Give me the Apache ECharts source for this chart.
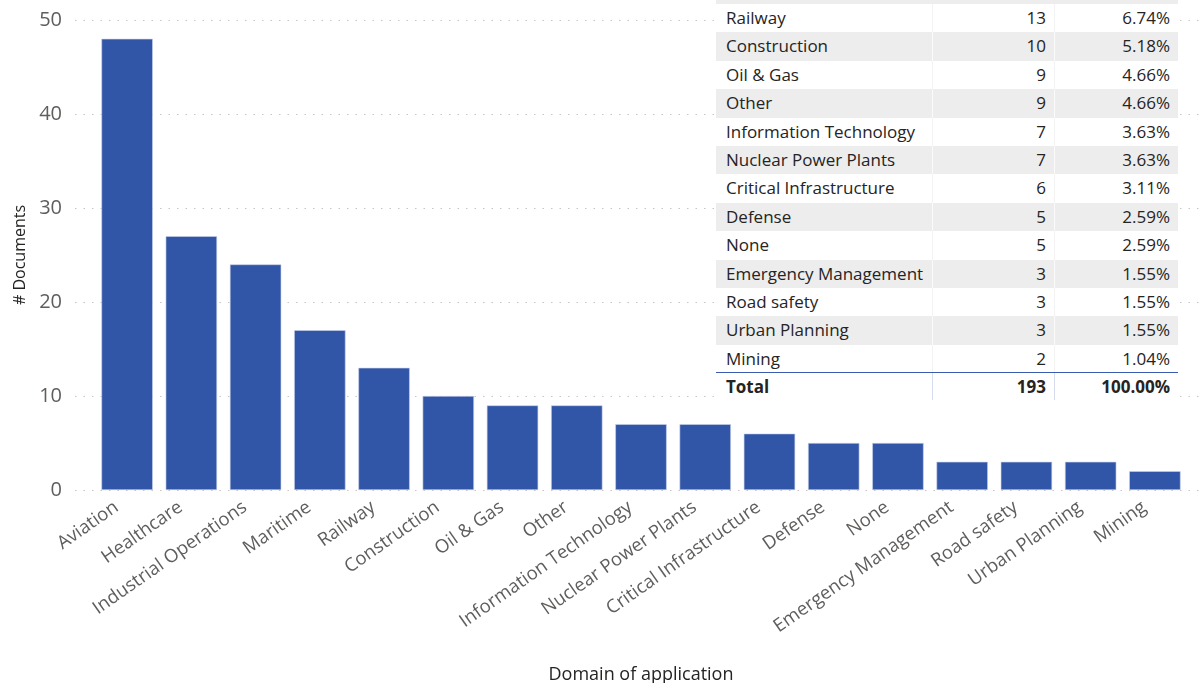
<!DOCTYPE html>
<html>
<head>
<meta charset="utf-8">
<script src="https://cdn.jsdelivr.net/npm/echarts@6/dist/echarts.min.js"></script>
<style>
  html, body { margin: 0; padding: 0; background: #fff; }
  #wrap { position: relative; width: 1203px; height: 683px; overflow: hidden; }
  #chart { position: absolute; left: 0; top: 0; width: 1203px; height: 683px; }
  #tbl { position: absolute; left: 716px; top: 0; width: 462px; height: 400px; background: #fff;
         font-family: "Open Sans", "Noto Sans", sans-serif; font-size: 17px; color: #252423; overflow: hidden; }
  .row { display: flex; height: 28.4px; line-height: 28.4px; box-sizing: border-box; }
  .row.gray { background: #EDEDED; }
  .c1 { width: 216px; padding-left: 10px; box-sizing: border-box; white-space: nowrap; }
  .c2 { width: 122px; padding-right: 8px; text-align: right; box-sizing: border-box; border-left: 1px solid #F3F3F3; }
  .c3 { width: 124px; padding-right: 8px; text-align: right; box-sizing: border-box; border-left: 1px solid #F3F3F3; }
  .row.gray .c2, .row.gray .c3 { border-left-color: #FAFAFA; }
  .top { height: 4px; background: #EDEDED; }
  .total { position: absolute; left: 0; top: 372px; width: 462px; height: 28px; line-height: 28px;
           border-top: 1.5px solid #3A5BAF; font-weight: bold; box-sizing: border-box; }
  .total .c2, .total .c3 { border-left-color: #D5DCEE; }
</style>
</head>
<body>
<div id="wrap">
  <div id="chart"></div>
  <div id="tbl"></div>
</div>
<script>
// ---- data ----
const categories = ["Aviation", "Healthcare", "Industrial Operations", "Maritime", "Railway", "Construction",
  "Oil & Gas", "Other", "Information Technology", "Nuclear Power Plants", "Critical Infrastructure",
  "Defense", "None", "Emergency Management", "Road safety", "Urban Planning", "Mining"];
const documents = [48, 27, 24, 17, 13, 10, 9, 9, 7, 7, 6, 5, 5, 3, 3, 3, 2];
const yTicks = [0, 10, 20, 30, 40, 50];

// table (scrolled: visible rows start at "Railway")
const tableCategories = ["Railway", "Construction", "Oil & Gas", "Other", "Information Technology",
  "Nuclear Power Plants", "Critical Infrastructure", "Defense", "None", "Emergency Management",
  "Road safety", "Urban Planning", "Mining"];
const tableCounts = [13, 10, 9, 9, 7, 7, 6, 5, 5, 3, 3, 3, 2];
const tablePercents = ["6.74%", "5.18%", "4.66%", "4.66%", "3.63%", "3.63%", "3.11%", "2.59%",
  "2.59%", "1.55%", "1.55%", "1.55%", "1.04%"];
const tableTotalCount = 193;
const tableTotalPercent = "100.00%";

// ---- table ----
const tbl = document.getElementById('tbl');
let html = '<div class="top"></div>';
tableCategories.forEach((c, i) => {
  const cls = (i % 2 === 1) ? 'row gray' : 'row';
  html += '<div class="' + cls + '"><div class="c1">' + c.replace('&', '&amp;') + '</div><div class="c2">' +
    tableCounts[i] + '</div><div class="c3">' + tablePercents[i] + '</div></div>';
});
html += '<div class="row total"><div class="c1">Total</div><div class="c2">' + tableTotalCount +
  '</div><div class="c3">' + tableTotalPercent + '</div></div>';
tbl.innerHTML = html;

// ---- chart ----
const chart = echarts.init(document.getElementById('chart'), null, { renderer: 'canvas' });
const font = '"Open Sans", "Noto Sans", sans-serif';
const option = {
  animation: false,
  textStyle: { fontFamily: font },
  grid: [
    { left: 95, right: 16, top: 20, bottom: 193, containLabel: false, outerBoundsMode: 'none' },
    { left: 75, right: 3, top: 20, bottom: 193, containLabel: false, outerBoundsMode: 'none' }
  ],
  xAxis: [
    {
      type: 'category', gridIndex: 0, data: categories,
      axisLine: { show: false }, axisTick: { show: false },
      axisLabel: { rotate: 35, fontSize: 18.5, color: '#605E5C', margin: 8, interval: 0,
        padding: [0, 13, 0, 0], fontFamily: font },
      name: 'Domain of application', nameLocation: 'middle', nameGap: 176,
      nameTextStyle: { fontSize: 18, color: '#252423', fontFamily: font }
    },
    { type: 'value', gridIndex: 1, show: false, min: 0, max: 1 }
  ],
  yAxis: [
    {
      type: 'value', gridIndex: 0, min: yTicks[0], max: yTicks[yTicks.length - 1], interval: 10,
      axisLine: { show: false }, axisTick: { show: false }, splitLine: { show: false },
      axisLabel: { fontSize: 20, color: '#605E5C', margin: 33, fontFamily: font },
      name: '# Documents', nameLocation: 'middle', nameGap: 66,
      nameTextStyle: { fontSize: 16, color: '#252423', fontFamily: font }
    },
    {
      type: 'value', gridIndex: 1, min: yTicks[0], max: yTicks[yTicks.length - 1], interval: 10,
      axisLine: { show: false }, axisTick: { show: false }, axisLabel: { show: false },
      splitLine: { show: true, lineStyle: { color: '#C8C6C4', width: 1, type: [1.5, 7] } }
    }
  ],
  series: [
    {
      type: 'bar', xAxisIndex: 0, yAxisIndex: 0, data: documents,
      barCategoryGap: '20%',
      itemStyle: { color: '#3256A7', borderColor: '#C9D2EA', borderWidth: 0.6 },
      z: 3
    }
  ]
};
chart.setOption(option);
</script>
</body>
</html>
